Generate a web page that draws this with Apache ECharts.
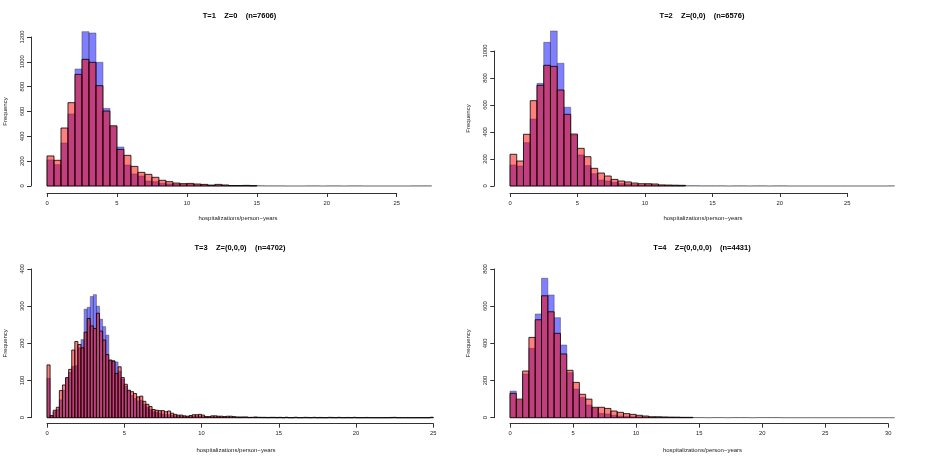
<!DOCTYPE html>
<html>
<head>
<meta charset="utf-8">
<script src="https://cdn.jsdelivr.net/npm/echarts@6/dist/echarts.min.js"></script>
<style>
  html, body { margin: 0; padding: 0; background: #fff; }
  #chart { width: 926px; height: 463px; }
</style>
</head>
<body>
<div id="chart"></div>
<script>
// bin widths (hospitalizations/person-years)
const binW1 = 0.5, binW2 = 0.5, binW3 = 0.2, binW4 = 0.5;

// T=1
const red1 = [242,207,467,671,899,1020,996,808,604,485,295,247,158,110,94,70,46,35,24,19,21,16,13,6,13,8,4,4,5,3];
const blue1 = [210,172,346,580,942,1243,1232,996,625,478,314,169,97,80,40,35,21,16,16,13,13,10,8,8,5,5,3,3,4,2,
  2,1,1,1,0,0,0,1,1,0,1,1,0,1,1,0,0,0,0,0,0,0,1,1,1];

// T=2
const red2 = [235,185,383,632,746,894,886,711,531,385,279,217,131,96,74,49,37,30,22,17,17,15,8,7,6,5];
const blue2 = [156,148,321,496,760,1064,1148,909,583,378,230,151,91,44,37,27,17,15,10,7,10,7,4,4,3,3,2,2,1,1,
  1,1,0,1,1,0,1,1,0,1,1,0,0,0,0,0,0,0,0,0,0,0,0,0,0,0,1];

// T=3
const red3 = [142,6,20,28,73,88,108,130,182,205, 197,188,230,267,247,240,281,233,209,170,
  155,152,119,137,108,90,74,70,65,56, 58,44,36,30,22,20,19,19,16,18,
  12,9,7,7,5,4,6,8,8,9, 7,3,3,5,5,4,4,3,4,4,
  3,2,2,2,2,1,1,2,1,1, 1,0,1,1,0,1,0,1,0,0,
  1,0,0,1,0,0,1,0,0,0, 0,1,0,0,1,0,0,0,0,1,
  0,0,0,0,0,0,0,0,0,0, 0,0,1,0,0,0,0,0,0,0, 0,0,0,0,1];
const blue3 = [106,4,16,22,48,74,106,122,138,140, 188,210,292,297,326,331,300,265,245,222,
  155,154,150,125,104,85,73,60,52,45, 47,36,28,22,16,14,12,10,9,8,
  6,5,4,3,3,2,3,3,4,4, 3,2,1,2,2,2,1,2,1,1,
  1,1,0,1,1,0,1,0,1,0, 0,1,0,0,1,0,0,1,0,0,
  1,0,0,0,1,0,0,0,1,0, 0,0,1,0,0,0,0,1,0,0,
  0,0,0,1,0,0,0,0,0,0, 0,1,0,0,0,0,0,0,0,0, 0,0,0,0,1];

// T=4
const red4 = [131,100,251,432,527,656,570,454,343,255,190,126,100,56,56,50,36,29,22,18,13,9,5,5,4,3,3,2,2];
const blue4 = [143,93,235,373,558,750,660,538,391,242,154,109,68,50,23,20,13,9,7,5,5,4,3,2,2,2,1,1,1,1,
  1,0,1,1,0,1,1,1,0,1,1,1,1,0,0,0,0,0,0,0,0,0,0,0,0,0,0,0,0,0,0];

const titles = ['T=1    Z=0    (n=7606)', 'T=2    Z=(0,0)    (n=6576)',
                'T=3    Z=(0,0,0)    (n=4702)', 'T=4    Z=(0,0,0,0)    (n=4431)'];
const xLabel = 'hospitalizations/person\u2212years';
const yLabel = 'Frequency';
const xMax = [25, 25, 25, 30];
const yMax = [1200, 1000, 400, 800];
const yStep = [200, 200, 100, 200];

const panels = [
  { red: red1, blue: blue1, w: binW1, grid: { left: 47, right: 529.3, top: 37, bottom: 277 }, yOff: 16, xOff: 7, tx: 239.5, ty: 16, lx: 238, ly: 218 },
  { red: red2, blue: blue2, w: binW2, grid: { left: 510, right: 78.7, top: 51, bottom: 277 }, yOff: 15.7, xOff: 7, tx: 702, ty: 16, lx: 703, ly: 218 },
  { red: red3, blue: blue3, w: binW3, grid: { left: 47, right: 492.7, top: 269, bottom: 45.3 }, yOff: 15.7, xOff: 6, tx: 240, ty: 247.5, lx: 236, ly: 450.5 },
  { red: red4, blue: blue4, w: binW4, grid: { left: 510, right: 37.7, top: 269, bottom: 45.3 }, yOff: 15.7, xOff: 6, tx: 702, ty: 247.5, lx: 702.5, ly: 450.5 }
];

const FONT = '"Liberation Sans", Arial, Helvetica, sans-serif';
const axisColor = '#333';

function histSeries(idx, counts, w, fill, stroke) {
  return {
    type: 'custom',
    xAxisIndex: idx,
    yAxisIndex: idx,
    clip: false,
    silent: true,
    data: counts.map((c, i) => [i * w, (i + 1) * w, c]),
    encode: { x: [0, 1], y: 2 },
    renderItem: function (params, api) {
      const p0 = api.coord([api.value(0), api.value(2)]);
      const p1 = api.coord([api.value(1), 0]);
      return {
        type: 'rect',
        shape: { x: p0[0], y: p0[1], width: p1[0] - p0[0], height: p1[1] - p0[1] },
        style: { fill: fill, stroke: stroke, lineWidth: 1 }
      };
    }
  };
}

const grids = [], xAxes = [], yAxes = [], series = [], graphics = [];
panels.forEach((p, i) => {
  grids.push(Object.assign({ containLabel: false }, p.grid));
  xAxes.push({
    gridIndex: i, type: 'value', min: 0, max: xMax[i], interval: 5, offset: p.xOff,
    axisLine: { show: true, onZero: false, lineStyle: { color: axisColor, width: 1 } },
    axisTick: { show: true, length: 4, lineStyle: { color: axisColor } },
    axisLabel: { fontSize: 5.8, margin: 7, color: '#222', fontFamily: FONT, formatter: v => String(v) },
    splitLine: { show: false }
  });
  yAxes.push({
    gridIndex: i, type: 'value', min: 0, max: yMax[i], interval: yStep[i], offset: p.yOff,
    position: 'left',
    name: yLabel, nameLocation: 'middle', nameRotate: 90, nameGap: 23,
    nameTextStyle: { fontSize: 6, color: '#222', fontFamily: FONT },
    axisLine: { show: true, onZero: false, lineStyle: { color: axisColor, width: 1 } },
    axisTick: { show: true, length: 4, lineStyle: { color: axisColor } },
    axisLabel: { fontSize: 5.8, rotate: 90, margin: 6, color: '#222', fontFamily: FONT, formatter: v => String(v) },
    splitLine: { show: false }
  });
  series.push(histSeries(i, p.blue, p.w, 'rgba(0,0,255,0.5)', 'rgba(60,60,60,0.45)'));
  series.push(histSeries(i, p.red, p.w, 'rgba(255,0,0,0.5)', 'rgba(0,0,0,0.8)'));
  graphics.push({
    type: 'text', x: p.tx, y: p.ty,
    style: { text: titles[i], font: 'bold 7.5px ' + FONT, fill: '#000', align: 'center', verticalAlign: 'middle' }
  });
  graphics.push({
    type: 'text', x: p.lx, y: p.ly,
    style: { text: xLabel, font: '6px ' + FONT, fill: '#222', align: 'center', verticalAlign: 'middle' }
  });
});

const chart = echarts.init(document.getElementById('chart'), null, { renderer: 'canvas' });
chart.setOption({
  animation: false,
  backgroundColor: '#fff',
  grid: grids,
  xAxis: xAxes,
  yAxis: yAxes,
  series: series,
  graphic: graphics
});
</script>
</body>
</html>
